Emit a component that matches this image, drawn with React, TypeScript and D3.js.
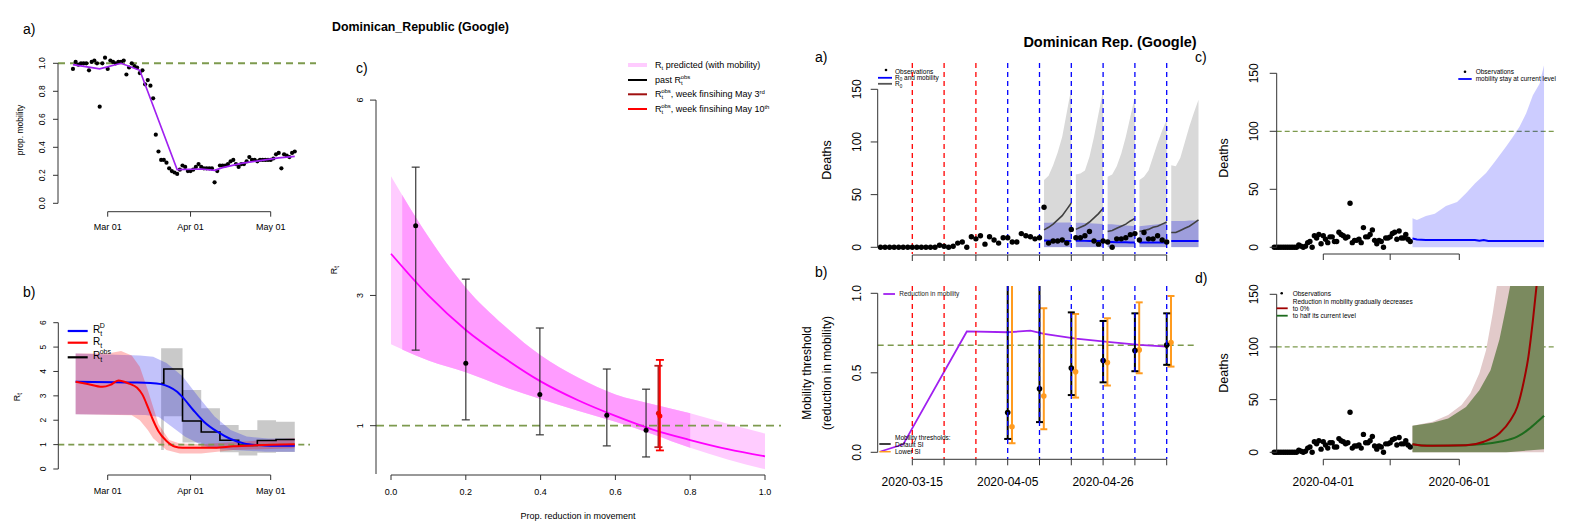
import React from "react";
import * as d3 from "d3";

type DV = [string, number];

const FONT = "'Liberation Sans', Arial, Helvetica, sans-serif";
const GREEN = "#7d9a4e";
const PURPLE = "#a020f0";
const AX = "#333";

function dt(s: string): Date {
  const [y, m, d] = s.split("-").map(Number);
  return new Date(y, m - 1, d);
}
function seqDates(start: string, n: number): Date[] {
  const s = dt(start);
  return Array.from({ length: n }, (_, i) => new Date(s.getFullYear(), s.getMonth(), s.getDate() + i));
}

// ---------------- Left a) mobility ----------------
const mobilityStart = "2020-02-17";
const mobilityObs = [0.96,1.01,0.99,1.0,1.0,1.0,0.95,1.01,1.02,1.0,
  0.69,1.0,1.04,0.96,1.02,1.01,1.0,1.01,1.01,1.02,
  0.92,0.97,1.0,0.98,0.97,0.93,0.95,0.85,0.88,0.84,
  0.75,0.49,0.37,0.31,0.31,0.29,0.25,0.23,0.22,0.21,
  0.24,0.27,0.26,0.23,0.23,0.24,0.26,0.28,0.26,0.25,
  0.25,0.25,0.25,0.15,0.23,0.27,0.27,0.27,0.28,0.30,
  0.31,0.28,0.26,0.28,0.28,0.30,0.33,0.31,0.31,0.30,
  0.31,0.31,0.31,0.31,0.31,0.32,0.35,0.36,0.25,0.35,
  0.34,0.33,0.36,0.37];
const mobilityFit: DV[] = [["2020-02-17",0.99],["2020-02-27",0.96],["2020-03-06",1.0],["2020-03-13",0.95],["2020-03-27",0.24],["2020-04-05",0.245],["2020-04-10",0.235],["2020-04-13",0.255],["2020-04-20",0.285],["2020-04-27",0.305],["2020-05-04",0.325],["2020-05-10",0.335]];
const laYTicks = [0, 0.2, 0.4, 0.6, 0.8, 1.0];
const leftXTicks: DV[] = [["2020-03-01",0],["2020-04-01",0],["2020-05-01",0]];
const leftXLabels = ["Mar 01", "Apr 01", "May 01"];

// ---------------- Left b) Rt ----------------
const rtDLine: DV[] = [["2020-02-18",3.58],["2020-03-10",3.55],["2020-03-17",3.53],["2020-03-21",3.48],["2020-03-24",3.37],["2020-03-27",3.17],["2020-03-29",2.95],["2020-04-02",2.42],["2020-04-06",1.94],["2020-04-11",1.53],["2020-04-16",1.23],["2020-04-21",1.05],["2020-04-26",0.98],["2020-05-01",0.95],["2020-05-10",0.95]];
const rtDUpper: DV[] = [["2020-02-18",4.74],["2020-03-13",4.65],["2020-03-18",4.6],["2020-03-23",4.35],["2020-03-29",3.8],["2020-04-04",2.95],["2020-04-10",2.15],["2020-04-16",1.6],["2020-04-22",1.33],["2020-04-30",1.25],["2020-05-10",1.25]];
const rtDLower: DV[] = [["2020-02-18",2.25],["2020-03-15",2.21],["2020-03-20",2.14],["2020-03-25",1.73],["2020-03-30",1.32],["2020-04-04",1.05],["2020-04-09",0.85],["2020-04-17",0.78],["2020-04-29",0.71],["2020-05-10",0.71]];
const rtLine: DV[] = [["2020-02-18",3.58],["2020-02-22",3.5],["2020-02-28",3.37],["2020-03-02",3.45],["2020-03-05",3.63],["2020-03-09",3.5],["2020-03-12",3.33],["2020-03-14",3.05],["2020-03-16",2.55],["2020-03-18",2.0],["2020-03-20",1.55],["2020-03-23",1.15],["2020-03-26",0.92],["2020-03-29",0.87],["2020-04-10",0.87],["2020-04-17",0.93],["2020-04-25",0.97],["2020-05-10",1.01]];
const rtUpper: DV[] = [["2020-02-18",4.74],["2020-03-01",4.74],["2020-03-06",4.84],["2020-03-10",4.65],["2020-03-13",4.19],["2020-03-16",3.24],["2020-03-20",1.85],["2020-03-24",1.19],["2020-03-28",1.05],["2020-04-05",1.02],["2020-05-10",1.26]];
const rtLower: DV[] = [["2020-02-18",2.25],["2020-03-10",2.2],["2020-03-13",2.0],["2020-03-16",1.6],["2020-03-18",1.26],["2020-03-23",0.78],["2020-03-28",0.64],["2020-04-05",0.64],["2020-04-17",0.78],["2020-05-10",0.85]];
const rObsDates = ["2020-03-21","2020-03-22","2020-03-29","2020-04-05","2020-04-12","2020-04-19","2020-04-26","2020-05-03","2020-05-10"];
const rObsVals = [3.51,4.1,1.97,1.52,1.18,0.97,1.17,1.21];
const rObsHi = [4.95,4.95,3.24,2.49,1.8,1.6,2.0,1.94];
const rObsLo = [0.78,2.16,1.09,0.86,0.69,0.55,0.67,0.7];
const lbYTicks = [0,1,2,3,4,5,6];

// ---------------- Middle c) ----------------
const midX = [0,0.1,0.2,0.3,0.4,0.5,0.6,0.7,0.8,0.9,1.0];
const midFit = [3.64,3.0,2.47,2.05,1.68,1.39,1.15,0.94,0.78,0.64,0.53];
const midUpper = [4.83,3.9,3.12,2.55,2.08,1.74,1.48,1.33,1.19,1.03,0.88];
const midLower = [2.25,2.0,1.82,1.6,1.41,1.23,1.06,0.87,0.66,0.48,0.33];
const pastX = [0.066,0.2,0.398,0.577,0.682];
const pastR = [4.07,1.96,1.48,1.16,0.93];
const pastHi = [4.97,3.25,2.5,1.87,1.56];
const pastLo = [2.16,1.09,0.86,0.69,0.52];
const may3 = { x: 0.715, r: 1.19, hi: 1.92, lo: 0.67 };
const may10 = { x: 0.719, r: 1.15, hi: 2.01, lo: 0.62 };
const midYTicks = [1, 3, 6];
const midXTicks = [0, 0.2, 0.4, 0.6, 0.8, 1.0];

// ---------------- Right: deaths ----------------
const deathsStart = "2020-03-08";
const deaths = [0,0,0,0,0,0,0,0,0,0,0,0,0,
  2,1,0,1,4,5,0,10,8,11,3,
  10,7,4,9,9,5,5,13,11,10,8,9,38,4,6,6,7,4,17,9,9,11,15,6,3,6,5,0,8,8,
  9,12,13,7,14,8,8,11,7,5];
const redLines = ["2020-03-15","2020-03-22","2020-03-29"];
const blueLines = ["2020-04-05","2020-04-12","2020-04-19","2020-04-26","2020-05-03","2020-05-10"];
const weekTicks = ["2020-03-15","2020-03-22","2020-03-29","2020-04-05","2020-04-12","2020-04-19","2020-04-26","2020-05-03","2020-05-10"];
const rbXLabels = ["2020-03-15","2020-04-05","2020-04-26"];
const deathTicks = [0,50,100,150];

const fcStarts = ["2020-04-13","2020-04-20","2020-04-27","2020-05-04","2020-05-11"];
const fcR0Upper = [[64,68,78,90,105,128,151],[69,70,73,86,105,127,149],[67,69,77,89,105,124,143],[64,67,73,86,99,111,121],[78,77,85,100,115,128,140]];
const fcR0Median = [[16.5,19,22,26,30,36,42],[17,19,21,24,28,32,37],[15,16,18,20,22,25,27.5],[15,16,17,19,20,22,24],[14,14,16,18,20,23,26]];
const fcMobUpper = [[23.4,23.4,23.5,23.5,23.5,23.5,23.5],[23.4,23.2,23,22.8,22.6,22.4,22.2],[22,21.8,21.5,21.2,20.8,20.4,20],[20,20.5,21,21.5,22,22.5,23],[25,25,25,25,25.5,25.5,25.5]];
const fcMobMedian = [[6.5,6.3,6.2,6.2,6.1,6.1,6.0],[6.3,6.2,6.1,6,6,6,6],[5,5,4.9,4.8,4.7,4.6,4.5],[4.5,4.5,4.5,4.5,4.5,4.5,4.5],[6,6,6,6,6,6,6]];

// b) mobility threshold
const mobReduction: DV[] = [["2020-03-08",0.005],["2020-03-13",0.05],["2020-03-27",0.76],["2020-04-05",0.755],["2020-04-10",0.765],["2020-04-13",0.745],["2020-04-20",0.715],["2020-04-27",0.695],["2020-05-04",0.675],["2020-05-10",0.665]];
const thrDates = ["2020-04-05","2020-04-12","2020-04-19","2020-04-26","2020-05-03","2020-05-10"];
const thrDefMid = [0.25,0.40,0.53,0.577,0.64,0.675];
const thrDefLo = [0.084,0.19,0.36,0.44,0.51,0.55];
const thrDefHi = [1.1,1.1,0.88,0.826,0.874,0.874];
const thrLowMid = [0.16,0.354,0.507,0.564,0.644,0.69];
const thrLowLo = [0.057,0.145,0.344,0.42,0.497,0.539];
const thrLowHi = [1.1,0.906,0.87,0.843,0.943,0.983];
const rbYTicks = [0, 0.5, 1.0];

// c) current level
const cXTicks = ["2020-04-01","2020-05-01","2020-06-01"];
const cDates = ["2020-05-11","2020-05-13","2020-05-17","2020-05-21","2020-05-26","2020-05-31","2020-06-04","2020-06-08","2020-06-13","2020-06-17","2020-06-22","2020-06-25","2020-06-28","2020-07-01","2020-07-04","2020-07-07","2020-07-09"];
const cUpper = [25,23.6,27,29,35.6,39,46.5,55,64,74,87,95,104,115.5,131,141,157];
const cMedDates = ["2020-05-11","2020-05-13","2020-05-17","2020-06-08","2020-06-10","2020-06-12","2020-06-14","2020-07-09"];
const cMed = [7.5,6.8,6.3,6.3,5.6,6.2,5.5,5.4];

// d) scenarios
const dPinkDates = ["2020-05-11","2020-05-20","2020-05-27","2020-06-02","2020-06-06","2020-06-10","2020-06-13","2020-06-16","2020-06-18","2020-07-09"];
const dPinkUpper = [25.3,29,35.4,45,56,75,97,132,160,175];
const dGreenDates = ["2020-05-11","2020-05-20","2020-05-27","2020-06-04","2020-06-10","2020-06-15","2020-06-19","2020-06-22","2020-06-24","2020-07-09"];
const dGreenUpper = [25.3,28,32,43,59,78,107,138,160,175];
const dGreenLower = [0,0,0,0,0,0,0,0,0.3,3];
const dRedDates = ["2020-05-11","2020-05-15","2020-05-20","2020-06-04","2020-06-12","2020-06-19","2020-06-24","2020-06-27","2020-06-30","2020-07-02","2020-07-03","2020-07-04","2020-07-05","2020-07-06"];
const dRed = [7.6,6.5,6.3,6.6,10,18,30.7,43,68,90.8,107,125,145,165];
const dGreenLineDates = ["2020-05-11","2020-05-15","2020-05-27","2020-06-12","2020-06-19","2020-06-27","2020-07-02","2020-07-06","2020-07-09"];
const dGreenLine = [7.6,6.5,6.3,7.9,10,14.8,21.8,29,34.8];
const dXLabels = ["2020-04-01","2020-06-01"];

// ---------------- helpers ----------------
type Sc = (v: any) => number;
function bandD(upper: DV[], lower: DV[], x: Sc, y: Sc) {
  const pts: [number, number][] = [
    ...upper.map((d) => [x(dt(d[0])), y(d[1])] as [number, number]),
    ...lower.slice().reverse().map((d) => [x(dt(d[0])), y(d[1])] as [number, number]),
  ];
  return d3.line()(pts) + "Z";
}
function lineD(data: DV[], x: Sc, y: Sc, curve: any = d3.curveLinear) {
  return d3.line<DV>().x((d) => x(dt(d[0]))).y((d) => y(d[1])).curve(curve)(data) || "";
}
function zip(dates: string[], vals: number[]): DV[] {
  return dates.map((d, i) => [d, vals[i]] as DV);
}
function VText(p: { x: number; y: number; size: number; children: any; weight?: string }) {
  return (
    <text transform={`translate(${p.x},${p.y}) rotate(-90)`} textAnchor="middle" fontSize={p.size} fontWeight={p.weight}>
      {p.children}
    </text>
  );
}

// ---------------- Panels ----------------
function PanelLA() {
  const x = d3.scaleTime().domain([dt("2020-03-01"), dt("2020-05-01")]).range([107.7, 270.7]);
  const y = d3.scaleLinear().domain([0, 1]).range([203.3, 63.3]);
  const dates = seqDates(mobilityStart, mobilityObs.length);
  const ax = 58, by = 211.7;
  return (
    <g>
      <text x={23} y={34} fontSize={14}>a)</text>
      <line x1={ax} x2={316} y1={y(1)} y2={y(1)} stroke={GREEN} strokeWidth={2} strokeDasharray="7,5" />
      {mobilityObs.map((v, i) => <circle key={i} cx={x(dates[i])} cy={y(v)} r={2.1} fill="#000" />)}
      <path d={lineD(mobilityFit, x, y)} fill="none" stroke={PURPLE} strokeWidth={1.7} />
      <line x1={ax} x2={ax} y1={y(0)} y2={y(1)} stroke={AX} />
      {laYTicks.map((t) => (
        <g key={t}>
          <line x1={ax - 5} x2={ax} y1={y(t)} y2={y(t)} stroke={AX} />
          <VText x={ax - 13} y={y(t)} size={8.5}>{t.toFixed(1)}</VText>
        </g>
      ))}
      <VText x={23} y={130} size={8.5}>prop. mobility</VText>
      <line x1={x(dt(leftXTicks[0][0]))} x2={x(dt(leftXTicks[2][0]))} y1={by} y2={by} stroke={AX} />
      {leftXTicks.map((t, i) => (
        <g key={i}>
          <line x1={x(dt(t[0]))} x2={x(dt(t[0]))} y1={by} y2={by + 5} stroke={AX} />
          <text x={x(dt(t[0]))} y={230} fontSize={9} textAnchor="middle">{leftXLabels[i]}</text>
        </g>
      ))}
    </g>
  );
}

function PanelLB() {
  const x = d3.scaleTime().domain([dt("2020-03-01"), dt("2020-05-01")]).range([107.7, 270.7]);
  const y = d3.scaleLinear().domain([0, 6]).range([469, 322.7]);
  const ax = 58.3, by = 475;
  const steps = rObsVals.map((v, i) => ({ d: dt(rObsDates[i]), v, hi: rObsHi[i], lo: rObsLo[i] }));
  const last = steps[steps.length - 1];
  const stepsExt = [...steps, { d: dt(rObsDates[rObsDates.length - 1]), v: last.v, hi: last.hi, lo: last.lo }];
  const grayArea = d3.area<any>().x((d) => x(d.d)).y0((d) => y(d.lo)).y1((d) => y(d.hi)).curve(d3.curveStepAfter)(stepsExt) || "";
  const obsLine = d3.line<any>().x((d) => x(d.d)).y((d) => y(d.v)).curve(d3.curveStepAfter)(stepsExt) || "";
  return (
    <g>
      <text x={23} y={297} fontSize={14}>b)</text>
      <path d={grayArea} fill="#c9c9c9" />
      <path d={bandD(rtDUpper, rtDLower, x, y)} fill="rgba(30,30,235,0.27)" />
      <path d={bandD(rtUpper, rtLower, x, y)} fill="rgba(255,0,0,0.25)" />
      <line x1={ax} x2={310} y1={y(1)} y2={y(1)} stroke={GREEN} strokeWidth={1.6} strokeDasharray="6,4" />
      <path d={obsLine} fill="none" stroke="#000" strokeWidth={1.6} />
      <path d={lineD(rtDLine, x, y, d3.curveMonotoneX)} fill="none" stroke="#0000ff" strokeWidth={2} />
      <path d={lineD(rtLine, x, y, d3.curveMonotoneX)} fill="none" stroke="#ff0000" strokeWidth={2} />
      <line x1={ax} x2={ax} y1={y(0)} y2={y(6)} stroke={AX} />
      {lbYTicks.map((t) => (
        <g key={t}>
          <line x1={ax - 5} x2={ax} y1={y(t)} y2={y(t)} stroke={AX} />
          <VText x={ax - 12} y={y(t)} size={8.5}>{String(t)}</VText>
        </g>
      ))}
      <text transform={`translate(20,397) rotate(-90)`} fontSize={9} textAnchor="middle">R<tspan fontSize={6.5} dy={2}>t</tspan></text>
      <line x1={x(dt(leftXTicks[0][0]))} x2={x(dt(leftXTicks[2][0]))} y1={by} y2={by} stroke={AX} />
      {leftXTicks.map((t, i) => (
        <g key={i}>
          <line x1={x(dt(t[0]))} x2={x(dt(t[0]))} y1={by} y2={by + 5} stroke={AX} />
          <text x={x(dt(t[0]))} y={494} fontSize={9} textAnchor="middle">{leftXLabels[i]}</text>
        </g>
      ))}
      {/* legend */}
      <line x1={67.7} x2={87.7} y1={331} y2={331} stroke="#0000ff" strokeWidth={2.2} />
      <line x1={67.7} x2={87.7} y1={342.7} y2={342.7} stroke="#ff0000" strokeWidth={2.2} />
      <line x1={67.7} x2={87.7} y1={357.3} y2={357.3} stroke="#000" strokeWidth={2.2} />
      <text x={93} y={333} fontSize={10}>R<tspan fontSize={7} dy={2.5}>t</tspan><tspan fontSize={7} dx={-2.5} dy={-7.5}>D</tspan></text>
      <text x={93} y={345} fontSize={10}>R<tspan fontSize={7} dy={2.5}>t</tspan></text>
      <text x={93} y={359} fontSize={10}>R<tspan fontSize={7} dy={2.5}>t</tspan><tspan fontSize={7} dx={-2.5} dy={-7.5}>obs</tspan></text>
    </g>
  );
}

function PanelMid() {
  const x = d3.scaleLinear().domain([0, 1]).range([391, 765]);
  const y = d3.scaleLinear().domain([0, 6]).range([490.8, 100.1]);
  const pts = midX.map((v, i) => ({ x: v, f: midFit[i], u: midUpper[i], l: midLower[i] }));
  const area = d3.area<any>().x((d) => x(d.x)).y0((d) => y(d.l)).y1((d) => y(d.u)).curve(d3.curveMonotoneX)(pts) || "";
  const fit = d3.line<any>().x((d) => x(d.x)).y((d) => y(d.f)).curve(d3.curveMonotoneX)(pts) || "";
  const ax = 376, by = 475;
  const bar = (xv: number, lo: number, hi: number, col: string, w: number, key: string) => (
    <g key={key} stroke={col} strokeWidth={w}>
      <line x1={x(xv)} x2={x(xv)} y1={y(lo)} y2={y(hi)} />
      <line x1={x(xv) - 4} x2={x(xv) + 4} y1={y(lo)} y2={y(lo)} />
      <line x1={x(xv) - 4} x2={x(xv) + 4} y1={y(hi)} y2={y(hi)} />
    </g>
  );
  return (
    <g>
      <defs>
        <clipPath id="midInner"><rect x={x(0.03)} y={90} width={x(0.8) - x(0.03)} height={400} /></clipPath>
      </defs>
      <text x={332} y={31} fontSize={12.4} fontWeight="bold">Dominican_Republic (Google)</text>
      <text x={356} y={73} fontSize={14}>c)</text>
      <path d={area} fill="#ffccff" />
      <path d={area} fill="#ff9cff" clipPath="url(#midInner)" />
      <line x1={ax} x2={781} y1={y(1)} y2={y(1)} stroke={GREEN} strokeWidth={1.8} strokeDasharray="8,5" />
      <path d={fit} fill="none" stroke="#ff00ff" strokeWidth={1.8} />
      {pastX.map((xv, i) => bar(xv, pastLo[i], pastHi[i], "rgba(40,40,40,0.8)", 1.4, "p" + i))}
      {pastX.map((xv, i) => <circle key={"pc" + i} cx={x(xv)} cy={y(pastR[i])} r={2.5} fill="#000" />)}
      {bar(may3.x, may3.lo, may3.hi, "#b22222", 1.8, "m3")}
      <circle cx={x(may3.x)} cy={y(may3.r)} r={2.5} fill="#e01010" />
      {bar(may10.x, may10.lo, may10.hi, "#ff0000", 1.8, "m10")}
      <circle cx={x(may10.x)} cy={y(may10.r)} r={2.5} fill="#ff0000" />
      <line x1={ax} x2={ax} y1={100.1} y2={474} stroke={AX} />
      {midYTicks.map((t) => (
        <g key={t}>
          <line x1={ax - 6} x2={ax} y1={y(t)} y2={y(t)} stroke={AX} />
          <VText x={363} y={y(t)} size={9}>{String(t)}</VText>
        </g>
      ))}
      <text transform={`translate(337,270) rotate(-90)`} fontSize={9} textAnchor="middle">R<tspan fontSize={6.5} dy={2}>t</tspan></text>
      <line x1={x(0)} x2={x(1)} y1={by} y2={by} stroke={AX} />
      {midXTicks.map((t) => (
        <g key={t}>
          <line x1={x(t)} x2={x(t)} y1={by} y2={by + 5} stroke={AX} />
          <text x={x(t)} y={495} fontSize={9} textAnchor="middle">{t.toFixed(1)}</text>
        </g>
      ))}
      <text x={578} y={519} fontSize={9} textAnchor="middle">Prop. reduction in movement</text>
      {/* legend */}
      <line x1={628} x2={647} y1={65} y2={65} stroke="#ffccff" strokeWidth={4} />
      <line x1={628} x2={647} y1={80} y2={80} stroke="#000" strokeWidth={2} />
      <line x1={628} x2={647} y1={94.3} y2={94.3} stroke="#a01010" strokeWidth={2} />
      <line x1={628} x2={647} y1={109} y2={109} stroke="#ff0000" strokeWidth={2} />
      <text x={655} y={68} fontSize={9}>R<tspan fontSize={6} dy={2}>t</tspan><tspan dy={-2}> predicted (with mobility)</tspan></text>
      <text x={655} y={83} fontSize={9}>past R<tspan fontSize={6} dy={2}>t</tspan><tspan fontSize={6} dx={-2} dy={-6.5}>obs</tspan></text>
      <text x={655} y={97.3} fontSize={9}>R<tspan fontSize={6} dy={2}>t</tspan><tspan fontSize={6} dx={-2} dy={-6.5}>obs</tspan><tspan dy={4.5}>, week finsihing May 3</tspan><tspan fontSize={6} dy={-3.5}>rd</tspan></text>
      <text x={655} y={112} fontSize={9}>R<tspan fontSize={6} dy={2}>t</tspan><tspan fontSize={6} dx={-2} dy={-6.5}>obs</tspan><tspan dy={4.5}>, week finsihing May 10</tspan><tspan fontSize={6} dy={-3.5}>th</tspan></text>
    </g>
  );
}

const xR = d3.scaleTime().domain([dt("2020-03-15"), dt("2020-05-10")]).range([912.3, 1166.7]);

function PanelRA() {
  const y = d3.scaleLinear().domain([0, 150]).range([247.3, 89.3]);
  const dates = seqDates(deathsStart, deaths.length);
  const ax = 877.7, by = 255;
  return (
    <g>
      <defs>
        <clipPath id="raClip"><rect x={878} y={63} width={330} height={184.5} /></clipPath>
      </defs>
      <text x={1110} y={47} fontSize={14.5} fontWeight="bold" textAnchor="middle">Dominican Rep. (Google)</text>
      <text x={815} y={62} fontSize={14}>a)</text>
      <g clipPath="url(#raClip)">
        {fcStarts.map((s, w) => {
          const ds = seqDates(s, 7);
          const a1 = d3.area<number>().x((_, i) => xR(ds[i])).y0(y(0)).y1((v) => y(v))(fcR0Upper[w]) || "";
          const a2 = d3.area<number>().x((_, i) => xR(ds[i])).y0(y(0)).y1((v) => y(v))(fcMobUpper[w]) || "";
          const l1 = d3.line<number>().x((_, i) => xR(ds[i])).y((v) => y(v))(fcR0Median[w]) || "";
          const l2 = d3.line<number>().x((_, i) => xR(ds[i])).y((v) => y(v))(fcMobMedian[w]) || "";
          return (
            <g key={s}>
              <path d={a1} fill="#d9d9d9" />
              <path d={a2} fill="rgba(0,0,230,0.27)" />
              <path d={l1} fill="none" stroke="#404040" strokeWidth={1.6} />
              <path d={l2} fill="none" stroke="#0000ff" strokeWidth={2} />
            </g>
          );
        })}
      </g>
      {redLines.map((d) => <line key={d} x1={xR(dt(d))} x2={xR(dt(d))} y1={63} y2={254} stroke="#ff0000" strokeWidth={1.3} strokeDasharray="5,4" />)}
      {blueLines.map((d) => <line key={d} x1={xR(dt(d))} x2={xR(dt(d))} y1={63} y2={254} stroke="#0000ff" strokeWidth={1.3} strokeDasharray="5,4" />)}
      {deaths.map((v, i) => <circle key={i} cx={xR(dates[i])} cy={y(v)} r={2.7} fill="#000" />)}
      <line x1={ax} x2={ax} y1={y(0)} y2={y(150)} stroke={AX} />
      {deathTicks.map((t) => (
        <g key={t}>
          <line x1={ax - 7} x2={ax} y1={y(t)} y2={y(t)} stroke={AX} />
          <VText x={861} y={y(t)} size={12}>{String(t)}</VText>
        </g>
      ))}
      <VText x={831} y={160} size={12.5}>Deaths</VText>
      <line x1={xR(dt(weekTicks[0]))} x2={xR(dt(weekTicks[weekTicks.length - 1]))} y1={by} y2={by} stroke={AX} />
      {weekTicks.map((d) => <line key={d} x1={xR(dt(d))} x2={xR(dt(d))} y1={by} y2={by + 6} stroke={AX} />)}
      {/* legend */}
      <circle cx={886} cy={70} r={1.3} fill="#000" />
      <text x={895} y={74} fontSize={6.5}>Observations</text>
      <line x1={878} x2={892} y1={77.8} y2={77.8} stroke="#0000ff" strokeWidth={1.8} />
      <text x={895} y={79.8} fontSize={6.5}>R<tspan fontSize={4.5} dy={1.5}>0</tspan><tspan dy={-1.5}> and mobility</tspan></text>
      <line x1={878} x2={892} y1={83.8} y2={83.8} stroke="#555" strokeWidth={1.8} />
      <text x={895} y={86} fontSize={6.5}>R<tspan fontSize={4.5} dy={1.5}>0</tspan></text>
    </g>
  );
}

function PanelRB() {
  const y = d3.scaleLinear().domain([0, 1]).range([452.3, 293.3]);
  const ax = 877.7, by = 459.3;
  const bar = (xp: number, lo: number, hi: number, mid: number, col: string, key: string) => (
    <g key={key}>
      <g stroke={col} strokeWidth={2}>
        <line x1={xp} x2={xp} y1={y(lo)} y2={y(hi)} />
        <line x1={xp - 3.5} x2={xp + 3.5} y1={y(lo)} y2={y(lo)} />
        <line x1={xp - 3.5} x2={xp + 3.5} y1={y(hi)} y2={y(hi)} />
      </g>
      <circle cx={xp} cy={y(mid)} r={2.8} fill={col} />
    </g>
  );
  return (
    <g>
      <defs>
        <clipPath id="rbClip"><rect x={870} y={286} width={340} height={175} /></clipPath>
      </defs>
      <text x={815} y={277} fontSize={14}>b)</text>
      <line x1={ax} x2={1196} y1={y(0.673)} y2={y(0.673)} stroke={GREEN} strokeWidth={1.5} strokeDasharray="6,4" />
      <path d={lineD(mobReduction, xR, y)} fill="none" stroke={PURPLE} strokeWidth={1.8} />
      <g clipPath="url(#rbClip)">
        {thrDates.map((d, i) => bar(xR(dt(d)) + 4.3, thrLowLo[i], thrLowHi[i], thrLowMid[i], "#ff9b1f", "o" + i))}
        {thrDates.map((d, i) => bar(xR(dt(d)), thrDefLo[i], thrDefHi[i], thrDefMid[i], "#000", "k" + i))}
      </g>
      {redLines.map((d) => <line key={d} x1={xR(dt(d))} x2={xR(dt(d))} y1={286} y2={459} stroke="#ff0000" strokeWidth={1.3} strokeDasharray="5,4" />)}
      {blueLines.map((d) => <line key={d} x1={xR(dt(d))} x2={xR(dt(d))} y1={286} y2={459} stroke="#0000ff" strokeWidth={1.3} strokeDasharray="5,4" />)}
      <line x1={ax} x2={ax} y1={y(0)} y2={y(1)} stroke={AX} />
      {rbYTicks.map((t) => (
        <g key={t}>
          <line x1={ax - 7} x2={ax} y1={y(t)} y2={y(t)} stroke={AX} />
          <VText x={861} y={y(t)} size={12}>{t.toFixed(1)}</VText>
        </g>
      ))}
      <VText x={811} y={373} size={12}>Mobility threshold</VText>
      <VText x={831} y={373} size={12}>(reduction in mobility)</VText>
      <line x1={xR(dt(weekTicks[0]))} x2={xR(dt(weekTicks[weekTicks.length - 1]))} y1={by} y2={by} stroke={AX} />
      {weekTicks.map((d) => <line key={d} x1={xR(dt(d))} x2={xR(dt(d))} y1={by} y2={by + 6} stroke={AX} />)}
      {rbXLabels.map((d) => <text key={d} x={xR(dt(d))} y={486} fontSize={12} textAnchor="middle">{d}</text>)}
      {/* legends */}
      <line x1={883.3} x2={895} y1={294} y2={294} stroke={PURPLE} strokeWidth={1.8} />
      <text x={899.3} y={296.3} fontSize={6.5} fill="#222">Reduction in mobility</text>
      <text x={895} y={440} fontSize={6.5}>Mobility thresholds:</text>
      <line x1={879.3} x2={890.7} y1={444} y2={444} stroke="#000" strokeWidth={1.5} />
      <text x={895} y={446.5} fontSize={6.5}>Default SI</text>
      <line x1={879.3} x2={890.7} y1={451.7} y2={451.7} stroke="#ff9b1f" strokeWidth={1.5} />
      <text x={895} y={454.2} fontSize={6.5}>Lower SI</text>
    </g>
  );
}

const xC = d3.scaleTime().domain([dt("2020-04-01"), dt("2020-06-01")]).range([1323.3, 1459.3]);

function DeathAxes(p: { y: any; by: number; labels: boolean; ylabelY: number }) {
  const ax = 1276.7;
  const y = p.y;
  return (
    <g>
      <line x1={ax} x2={ax} y1={y(0)} y2={y(150)} stroke={AX} />
      {deathTicks.map((t) => (
        <g key={t}>
          <line x1={ax - 7} x2={ax} y1={y(t)} y2={y(t)} stroke={AX} />
          <VText x={1257.5} y={y(t)} size={12}>{String(t)}</VText>
        </g>
      ))}
      <VText x={1228} y={p.ylabelY} size={12.5}>Deaths</VText>
      <line x1={xC(dt(cXTicks[0]))} x2={xC(dt(cXTicks[2]))} y1={p.by} y2={p.by} stroke={AX} />
      {cXTicks.map((d) => <line key={d} x1={xC(dt(d))} x2={xC(dt(d))} y1={p.by} y2={p.by + 6} stroke={AX} />)}
      {p.labels && dXLabels.map((d) => <text key={d} x={xC(dt(d))} y={486} fontSize={12} textAnchor="middle">{d}</text>)}
    </g>
  );
}

function ObsDots(p: { y: any }) {
  const dates = seqDates(deathsStart, deaths.length);
  const minD = dt("2020-03-10");
  return (
    <g>
      {deaths.map((v, i) => dates[i] >= minD ? <circle key={i} cx={xC(dates[i])} cy={p.y(v)} r={2.7} fill="#000" /> : null)}
    </g>
  );
}

function PanelRC() {
  const y = d3.scaleLinear().domain([0, 150]).range([247.3, 73.3]);
  const upper = zip(cDates, cUpper);
  const area = d3.area<DV>().x((d) => xC(dt(d[0]))).y0(y(0)).y1((d) => y(d[1]))(upper) || "";
  return (
    <g>
      <text x={1195} y={62} fontSize={14}>c)</text>
      <line x1={1276.7} x2={1556} y1={y(100)} y2={y(100)} stroke={GREEN} strokeWidth={1.2} strokeDasharray="5,3" />
      <path d={area} fill="rgba(0,0,255,0.2)" />
      <path d={lineD(zip(cMedDates, cMed), xC, y)} fill="none" stroke="#0000ff" strokeWidth={2} />
      <ObsDots y={y} />
      <DeathAxes y={y} by={254} labels={false} ylabelY={158} />
      <circle cx={1465} cy={71.7} r={1.3} fill="#000" />
      <text x={1475.7} y={74} fontSize={6.5}>Observations</text>
      <line x1={1458.3} x2={1471.7} y1={79} y2={79} stroke="#0000ff" strokeWidth={1.8} />
      <text x={1475.7} y={81.3} fontSize={6.5}>mobility stay at current level</text>
    </g>
  );
}

function PanelRD() {
  const y = d3.scaleLinear().domain([0, 150]).range([452.3, 294.3]);
  const pink = d3.area<DV>().x((d) => xC(dt(d[0]))).y0(y(0)).y1((d) => y(d[1]))(zip(dPinkDates, dPinkUpper)) || "";
  const gpts = dGreenDates.map((d, i) => ({ d: dt(d), u: dGreenUpper[i], l: dGreenLower[i] }));
  const green = d3.area<any>().x((d) => xC(d.d)).y0((d) => y(d.l)).y1((d) => y(d.u))(gpts) || "";
  return (
    <g>
      <defs>
        <clipPath id="rdClip"><rect x={1270} y={286} width={300} height={167} /></clipPath>
      </defs>
      <text x={1195} y={283} fontSize={14}>d)</text>
      <line x1={1276.7} x2={1556} y1={y(100)} y2={y(100)} stroke={GREEN} strokeWidth={1.2} strokeDasharray="5,3" />
      <g clipPath="url(#rdClip)">
        <path d={pink} fill="#e2caca" />
        <path d={green} fill="#7b8a5f" />
        <path d={lineD(zip(dGreenLineDates, dGreenLine), xC, y, d3.curveMonotoneX)} fill="none" stroke="#1d6b1d" strokeWidth={2} />
        <path d={lineD(zip(dRedDates, dRed), xC, y, d3.curveMonotoneX)} fill="none" stroke="#a00000" strokeWidth={2} />
      </g>
      <ObsDots y={y} />
      <DeathAxes y={y} by={459.3} labels={true} ylabelY={373} />
      <circle cx={1281.7} cy={293.3} r={1.3} fill="#000" />
      <text x={1292.7} y={295.6} fontSize={6.5}>Observations</text>
      <text x={1292.7} y={303.5} fontSize={6.5}>Reduction in mobility gradually decreases</text>
      <line x1={1276.7} x2={1287.7} y1={308.3} y2={308.3} stroke="#a00000" strokeWidth={1.8} />
      <text x={1292.7} y={310.6} fontSize={6.5}>to 0%</text>
      <line x1={1276.7} x2={1287.7} y1={315.7} y2={315.7} stroke="#1d6b1d" strokeWidth={1.8} />
      <text x={1292.7} y={318} fontSize={6.5}>to half its current level</text>
    </g>
  );
}

export default function App() {
  return (
    <svg width={1577} height={532} style={{ position: "absolute", left: 0, top: 0, background: "#fff" }} fontFamily={FONT}>
      <rect width={1577} height={532} fill="#fff" />
      <PanelLA />
      <PanelLB />
      <PanelMid />
      <PanelRA />
      <PanelRB />
      <PanelRC />
      <PanelRD />
    </svg>
  );
}
